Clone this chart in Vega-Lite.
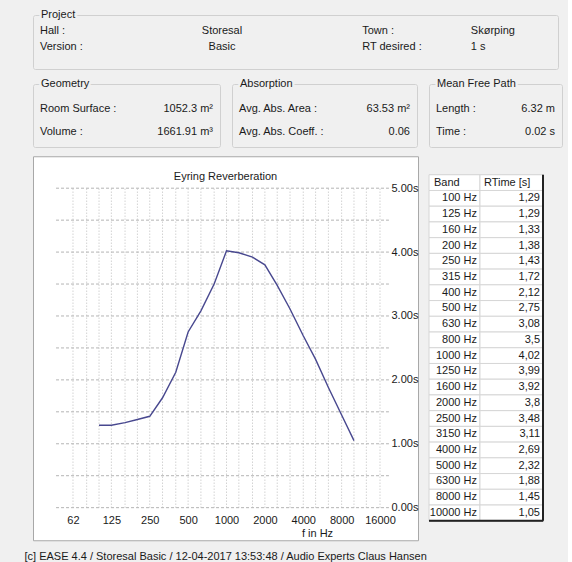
{
  "$schema": "https://vega.github.io/schema/vega-lite/v6.json",
  "background": "#f0f0f0",
  "padding": {"left": 24, "top": 8, "right": 5, "bottom": 5},
  "spacing": 7,
  "title": {"text": "[c] EASE 4.4  / Storesal Basic / 12-04-2017 13:53:48 / Audio Experts Claus Hansen", "orient": "bottom", "anchor": "start", "dx": -8, "offset": 10, "baseline": "top"},
  "datasets": {
    "project": [
      {"key": "Hall :", "val": "Storesal", "key2": "Town :", "val2": "Skørping"},
      {"key": "Version :", "val": "Basic", "key2": "RT desired :", "val2": "1 s"}
    ],
    "geo": [
      {"key": "Room Surface :", "val": "1052.3 m²"},
      {"key": "Volume :", "val": "1661.91 m³"}
    ],
    "abs": [
      {"key": "Avg. Abs. Area :", "val": "63.53 m²"},
      {"key": "Avg. Abs. Coeff. :", "val": "0.06"}
    ],
    "mfp": [
      {"key": "Length :", "val": "6.32 m"},
      {"key": "Time :", "val": "0.02 s"}
    ],
    "rt": [
      {"f": 100, "band": "100 Hz", "rt": 1.29, "rtText": "1,29"},
      {"f": 125, "band": "125 Hz", "rt": 1.29, "rtText": "1,29"},
      {"f": 160, "band": "160 Hz", "rt": 1.33, "rtText": "1,33"},
      {"f": 200, "band": "200 Hz", "rt": 1.38, "rtText": "1,38"},
      {"f": 250, "band": "250 Hz", "rt": 1.43, "rtText": "1,43"},
      {"f": 315, "band": "315 Hz", "rt": 1.72, "rtText": "1,72"},
      {"f": 400, "band": "400 Hz", "rt": 2.12, "rtText": "2,12"},
      {"f": 500, "band": "500 Hz", "rt": 2.75, "rtText": "2,75"},
      {"f": 630, "band": "630 Hz", "rt": 3.08, "rtText": "3,08"},
      {"f": 800, "band": "800 Hz", "rt": 3.5, "rtText": "3,5"},
      {"f": 1000, "band": "1000 Hz", "rt": 4.02, "rtText": "4,02"},
      {"f": 1250, "band": "1250 Hz", "rt": 3.99, "rtText": "3,99"},
      {"f": 1600, "band": "1600 Hz", "rt": 3.92, "rtText": "3,92"},
      {"f": 2000, "band": "2000 Hz", "rt": 3.8, "rtText": "3,8"},
      {"f": 2500, "band": "2500 Hz", "rt": 3.48, "rtText": "3,48"},
      {"f": 3150, "band": "3150 Hz", "rt": 3.11, "rtText": "3,11"},
      {"f": 4000, "band": "4000 Hz", "rt": 2.69, "rtText": "2,69"},
      {"f": 5000, "band": "5000 Hz", "rt": 2.32, "rtText": "2,32"},
      {"f": 6300, "band": "6300 Hz", "rt": 1.88, "rtText": "1,88"},
      {"f": 8000, "band": "8000 Hz", "rt": 1.45, "rtText": "1,45"},
      {"f": 10000, "band": "10000 Hz", "rt": 1.05, "rtText": "1,05"}
    ],
    "header": [{"c1": "Band", "c2": "RTime [s]"}],
    "hgrid": [
      {"t": 0}, {"t": 0.5}, {"t": 1}, {"t": 1.5}, {"t": 2}, {"t": 2.5},
      {"t": 3}, {"t": 3.5}, {"t": 4}, {"t": 4.5}, {"t": 5}
    ],
    "vgrid": [
      {"f": 62.5}, {"f": 80}, {"f": 100}, {"f": 125}, {"f": 160}, {"f": 200}, {"f": 250},
      {"f": 315}, {"f": 400}, {"f": 500}, {"f": 630}, {"f": 800}, {"f": 1000}, {"f": 1250},
      {"f": 1600}, {"f": 2000}, {"f": 2500}, {"f": 3150}, {"f": 4000}, {"f": 5000},
      {"f": 6300}, {"f": 8000}, {"f": 10000}, {"f": 12500}, {"f": 16000}
    ]
  },
  "vconcat": [
    {
      "spacing": 7,
      "vconcat": [
        {
          "width": 525,
          "height": 54,
          "view": {"stroke": "#d0d0d0", "cornerRadius": 2},
          "resolve": {"scale": {"y": "independent"}},
          "layer": [
            {
              "data": {"name": "project"},
              "layer": [
                {"mark": {"type": "text", "align": "left", "dx": 7},
                 "encoding": {
                   "x": {"datum": 0, "type": "quantitative", "scale": {"domain": [0, 1]}, "axis": null},
                   "y": {"field": "key", "type": "nominal", "sort": null, "scale": {"type": "point", "range": [16, 32], "padding": 0}, "axis": null},
                   "text": {"field": "key"}}},
                {"mark": {"type": "text", "align": "center"},
                 "encoding": {
                   "x": {"datum": 0.36, "type": "quantitative"},
                   "y": {"field": "key", "type": "nominal", "sort": null},
                   "text": {"field": "val"}}},
                {"mark": {"type": "text", "align": "left"},
                 "encoding": {
                   "x": {"datum": 0.627, "type": "quantitative"},
                   "y": {"field": "key", "type": "nominal", "sort": null},
                   "text": {"field": "key2"}}},
                {"mark": {"type": "text", "align": "left"},
                 "encoding": {
                   "x": {"datum": 0.834, "type": "quantitative"},
                   "y": {"field": "key", "type": "nominal", "sort": null},
                   "text": {"field": "val2"}}}
              ]
            },
            {
              "data": {"values": [{"title": "Project"}]},
              "layer": [
                {"mark": {"type": "text", "align": "left", "dx": 8, "fill": "#f0f0f0", "stroke": "#f0f0f0", "strokeWidth": 5, "strokeJoin": "round"},
                 "encoding": {
                   "x": {"datum": 0, "type": "quantitative"},
                   "y": {"datum": 1, "type": "quantitative", "scale": {"domain": [0, 1]}, "axis": null},
                   "text": {"field": "title"}}},
                {"mark": {"type": "text", "align": "left", "dx": 8},
                 "encoding": {
                   "x": {"datum": 0, "type": "quantitative"},
                   "y": {"datum": 1, "type": "quantitative"},
                   "text": {"field": "title"}}}
              ]
            }
          ]
        },
        {
          "spacing": 10,
          "hconcat": [
            {
              "width": 187, "height": 63,
              "view": {"stroke": "#d0d0d0", "cornerRadius": 2},
              "resolve": {"scale": {"y": "independent"}},
              "layer": [
                {
                  "data": {"name": "geo"},
                  "layer": [
                    {"mark": {"type": "text", "align": "left", "dx": 7},
                     "encoding": {
                       "x": {"datum": 0, "type": "quantitative", "scale": {"domain": [0, 1]}, "axis": null},
                       "y": {"field": "key", "type": "nominal", "sort": null, "scale": {"type": "point", "range": [25, 48], "padding": 0}, "axis": null},
                       "text": {"field": "key"}}},
                    {"mark": {"type": "text", "align": "right", "dx": -7},
                     "encoding": {
                       "x": {"datum": 1, "type": "quantitative"},
                       "y": {"field": "key", "type": "nominal", "sort": null},
                       "text": {"field": "val"}}}
                  ]
                },
                {
                  "data": {"values": [{"title": "Geometry"}]},
                  "layer": [
                    {"mark": {"type": "text", "align": "left", "dx": 8, "fill": "#f0f0f0", "stroke": "#f0f0f0", "strokeWidth": 5, "strokeJoin": "round"},
                     "encoding": {
                       "x": {"datum": 0, "type": "quantitative"},
                       "y": {"datum": 1, "type": "quantitative", "scale": {"domain": [0, 1]}, "axis": null},
                       "text": {"field": "title"}}},
                    {"mark": {"type": "text", "align": "left", "dx": 8},
                     "encoding": {
                       "x": {"datum": 0, "type": "quantitative"},
                       "y": {"datum": 1, "type": "quantitative"},
                       "text": {"field": "title"}}}
                  ]
                }
              ]
            },
            {
              "width": 185, "height": 63,
              "view": {"stroke": "#d0d0d0", "cornerRadius": 2},
              "resolve": {"scale": {"y": "independent"}},
              "layer": [
                {
                  "data": {"name": "abs"},
                  "layer": [
                    {"mark": {"type": "text", "align": "left", "dx": 7},
                     "encoding": {
                       "x": {"datum": 0, "type": "quantitative", "scale": {"domain": [0, 1]}, "axis": null},
                       "y": {"field": "key", "type": "nominal", "sort": null, "scale": {"type": "point", "range": [25, 48], "padding": 0}, "axis": null},
                       "text": {"field": "key"}}},
                    {"mark": {"type": "text", "align": "right", "dx": -7},
                     "encoding": {
                       "x": {"datum": 1, "type": "quantitative"},
                       "y": {"field": "key", "type": "nominal", "sort": null},
                       "text": {"field": "val"}}}
                  ]
                },
                {
                  "data": {"values": [{"title": "Absorption"}]},
                  "layer": [
                    {"mark": {"type": "text", "align": "left", "dx": 8, "fill": "#f0f0f0", "stroke": "#f0f0f0", "strokeWidth": 5, "strokeJoin": "round"},
                     "encoding": {
                       "x": {"datum": 0, "type": "quantitative"},
                       "y": {"datum": 1, "type": "quantitative", "scale": {"domain": [0, 1]}, "axis": null},
                       "text": {"field": "title"}}},
                    {"mark": {"type": "text", "align": "left", "dx": 8},
                     "encoding": {
                       "x": {"datum": 0, "type": "quantitative"},
                       "y": {"datum": 1, "type": "quantitative"},
                       "text": {"field": "title"}}}
                  ]
                }
              ]
            },
            {
              "width": 133, "height": 63,
              "view": {"stroke": "#d0d0d0", "cornerRadius": 2},
              "resolve": {"scale": {"y": "independent"}},
              "layer": [
                {
                  "data": {"name": "mfp"},
                  "layer": [
                    {"mark": {"type": "text", "align": "left", "dx": 7},
                     "encoding": {
                       "x": {"datum": 0, "type": "quantitative", "scale": {"domain": [0, 1]}, "axis": null},
                       "y": {"field": "key", "type": "nominal", "sort": null, "scale": {"type": "point", "range": [25, 48], "padding": 0}, "axis": null},
                       "text": {"field": "key"}}},
                    {"mark": {"type": "text", "align": "right", "dx": -7},
                     "encoding": {
                       "x": {"datum": 1, "type": "quantitative"},
                       "y": {"field": "key", "type": "nominal", "sort": null},
                       "text": {"field": "val"}}}
                  ]
                },
                {
                  "data": {"values": [{"title": "Mean Free Path"}]},
                  "layer": [
                    {"mark": {"type": "text", "align": "left", "dx": 8, "fill": "#f0f0f0", "stroke": "#f0f0f0", "strokeWidth": 5, "strokeJoin": "round"},
                     "encoding": {
                       "x": {"datum": 0, "type": "quantitative"},
                       "y": {"datum": 1, "type": "quantitative", "scale": {"domain": [0, 1]}, "axis": null},
                       "text": {"field": "title"}}},
                    {"mark": {"type": "text", "align": "left", "dx": 8},
                     "encoding": {
                       "x": {"datum": 0, "type": "quantitative"},
                       "y": {"datum": 1, "type": "quantitative"},
                       "text": {"field": "title"}}}
                  ]
                }
              ]
            }
          ]
        }
      ]
    },
    {
      "spacing": 8,
      "center": true,
      "hconcat": [
        {
          "width": 385,
          "height": 384,
          "view": {"fill": "white", "stroke": "#a8a8a8"},
          "title": {"text": "Eyring Reverberation", "anchor": "middle", "offset": -32, "baseline": "middle"},
          "layer": [
            {
              "data": {"name": "hgrid"},
              "mark": {"type": "rule", "color": "#b4b4b4", "strokeDash": [3, 2], "strokeWidth": 1},
              "encoding": {
                "x": {"datum": 46, "type": "quantitative",
                      "scale": {"type": "log", "base": 2, "domain": [30.35, 31780], "nice": false},
                      "axis": {"orient": "bottom", "offset": -32, "values": [62.5, 125, 250, 500, 1000, 2000, 4000, 8000, 16000],
                               "labelExpr": "floor(datum.value)", "ticks": false, "domain": false, "grid": false,
                               "labelPadding": 6, "labelFlush": false, "labelOverlap": false,
                               "title": "f in Hz", "titleX": 284, "titleY": 25, "titleBaseline": "middle", "titleAlign": "center"}},
                "x2": {"datum": 18800},
                "y": {"field": "t", "type": "quantitative",
                      "scale": {"domain": [-0.51, 5.5], "nice": false, "zero": false},
                      "axis": {"orient": "right", "offset": -29, "values": [0, 0.5, 1, 1.5, 2, 2.5, 3, 3.5, 4, 4.5, 5],
                               "labelExpr": "format(datum.value, '.2f') + 's'", "ticks": false, "domain": false, "grid": false,
                               "labelPadding": 2, "labelAlign": "left", "labelFlush": false, "labelOverlap": false, "title": null}}
              }
            },
            {
              "data": {"name": "vgrid"},
              "mark": {"type": "rule", "color": "#bcbcbc", "strokeDash": [1, 2], "strokeWidth": 1},
              "encoding": {
                "x": {"field": "f", "type": "quantitative"},
                "y": {"datum": 0, "type": "quantitative"},
                "y2": {"datum": 5}
              }
            },
            {
              "data": {"name": "rt"},
              "mark": {"type": "line", "color": "#48488f", "strokeWidth": 1.4},
              "encoding": {
                "x": {"field": "f", "type": "quantitative"},
                "y": {"field": "rt", "type": "quantitative"}
              }
            }
          ]
        },
        {
          "width": 114,
          "height": 346,
          "view": {"stroke": "#a0a0a0"},
          "layer": [
            {
              "data": {"name": "rt"},
              "mark": {"type": "rect", "fill": "white", "stroke": "#d6d6d6", "strokeWidth": 1},
              "encoding": {
                "x": {"datum": 0, "type": "quantitative", "scale": {"domain": [0, 1]}, "axis": null},
                "x2": {"datum": 0.447},
                "y": {"field": "band", "type": "nominal", "axis": null,
                      "scale": {"domain": ["Band", "100 Hz", "125 Hz", "160 Hz", "200 Hz", "250 Hz", "315 Hz", "400 Hz", "500 Hz", "630 Hz", "800 Hz", "1000 Hz", "1250 Hz", "1600 Hz", "2000 Hz", "2500 Hz", "3150 Hz", "4000 Hz", "5000 Hz", "6300 Hz", "8000 Hz", "10000 Hz"],
                                "paddingInner": 0, "paddingOuter": 0}}
              }
            },
            {
              "data": {"name": "rt"},
              "mark": {"type": "rect", "fill": "white", "stroke": "#d6d6d6", "strokeWidth": 1},
              "encoding": {
                "x": {"datum": 0.447, "type": "quantitative"},
                "x2": {"datum": 1},
                "y": {"field": "band", "type": "nominal"}
              }
            },
            {
              "data": {"name": "header"},
              "mark": {"type": "rect", "fill": "white", "stroke": "#d6d6d6", "strokeWidth": 1},
              "encoding": {
                "x": {"datum": 0, "type": "quantitative"},
                "x2": {"datum": 0.447},
                "y": {"datum": "Band", "type": "nominal"}
              }
            },
            {
              "data": {"name": "header"},
              "mark": {"type": "rect", "fill": "white", "stroke": "#d6d6d6", "strokeWidth": 1},
              "encoding": {
                "x": {"datum": 0.447, "type": "quantitative"},
                "x2": {"datum": 1},
                "y": {"datum": "Band", "type": "nominal"}
              }
            },
            {
              "data": {"name": "rt"},
              "mark": {"type": "text", "align": "right", "dx": -3},
              "encoding": {
                "x": {"datum": 0.447, "type": "quantitative"},
                "y": {"field": "band", "type": "nominal"},
                "text": {"field": "band"}
              }
            },
            {
              "data": {"name": "rt"},
              "mark": {"type": "text", "align": "right", "dx": -3},
              "encoding": {
                "x": {"datum": 1, "type": "quantitative"},
                "y": {"field": "band", "type": "nominal"},
                "text": {"field": "rtText"}
              }
            },
            {
              "data": {"name": "header"},
              "mark": {"type": "text", "align": "left", "dx": 5},
              "encoding": {
                "x": {"datum": 0, "type": "quantitative"},
                "y": {"datum": "Band", "type": "nominal"},
                "text": {"field": "c1"}
              }
            },
            {
              "data": {"name": "header"},
              "mark": {"type": "text", "align": "left", "dx": 4},
              "encoding": {
                "x": {"datum": 0.447, "type": "quantitative"},
                "y": {"datum": "Band", "type": "nominal"},
                "text": {"field": "c2"}
              }
            },
            {
              "data": {"name": "header"},
              "mark": {"type": "rule", "color": "#222222", "strokeWidth": 2},
              "encoding": {
                "x": {"datum": 1, "type": "quantitative"}
              }
            },
            {
              "data": {"name": "header"},
              "mark": {"type": "rule", "color": "#222222", "strokeWidth": 2},
              "encoding": {
                "y": {"datum": "10000 Hz", "type": "nominal", "bandPosition": 1}
              }
            }
          ]
        }
      ]
    }
  ],
  "config": {
    "font": "Liberation Sans",
    "view": {"stroke": null},
    "text": {"fontSize": 11, "color": "#1a1a1a"},
    "title": {"fontSize": 11, "fontWeight": "normal", "color": "#1a1a1a", "font": "Liberation Sans"},
    "axis": {"labelFontSize": 11, "labelColor": "#1a1a1a", "labelFont": "Liberation Sans", "titleFontSize": 11, "titleFontWeight": "normal", "titleColor": "#1a1a1a", "titleFont": "Liberation Sans"}
  }
}
